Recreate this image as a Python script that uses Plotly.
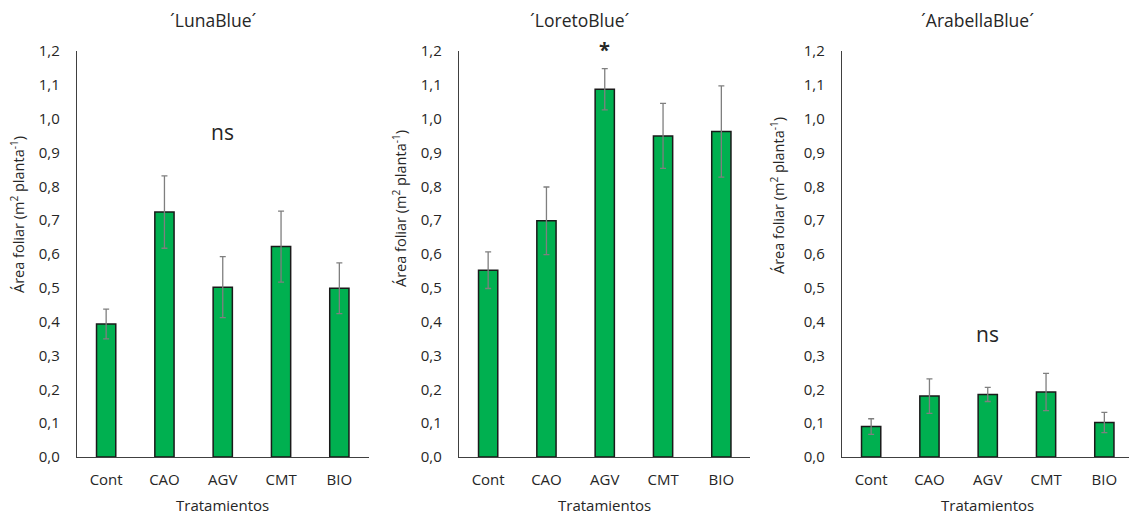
import plotly.graph_objects as go

# Treatments and leaf-area means (m² planta⁻¹) with standard errors
tratamientos = ["Cont", "CAO", "AGV", "CMT", "BIO"]

cultivares = ["´LunaBlue´", "´LoretoBlue´", "´ArabellaBlue´"]

luna_media = [0.393, 0.724, 0.502, 0.622, 0.499]
luna_error = [0.044, 0.107, 0.090, 0.105, 0.075]

loreto_media = [0.552, 0.698, 1.087, 0.949, 0.962]
loreto_error = [0.054, 0.100, 0.061, 0.096, 0.135]

arabella_media = [0.090, 0.180, 0.185, 0.192, 0.102]
arabella_error = [0.023, 0.051, 0.021, 0.055, 0.030]

# Significance marks: text, category, height
signif = [("ns", "AGV", 0.96), ("<b>*</b>", "AGV", 1.205), ("ns", "AGV", 0.364)]

y_ticks = [round(0.1 * i, 1) for i in range(13)]

W, H = 1129, 515
GREEN = "#00B050"
TXT = "#262626"
FONT = "Open Sans"

medias = [luna_media, loreto_media, arabella_media]
errores = [luna_error, loreto_error, arabella_error]

# Panel placement in pixels: y-axis line x, x-axis end
panels = [(77, 369), (459, 750), (842, 1129)]
cat_px = 58.3
y0_px, y1_px = 457, 51
y_span = 1.2

fig = go.Figure()
for i, (m, e) in enumerate(zip(medias, errores)):
    n = "" if i == 0 else str(i + 1)
    fig.add_trace(go.Bar(
        x=tratamientos, y=m,
        xaxis="x" + n, yaxis="y" + n,
        width=0.33,
        marker=dict(color=GREEN, line=dict(color="#1a1a1a", width=1.5)),
        error_y=dict(type="data", array=e, visible=True,
                     color="#7f7f7f", thickness=1.3, width=3),
        showlegend=False,
    ))

layout = dict(
    width=W, height=H,
    autosize=False,
    margin=dict(l=0, r=0, t=0, b=0, pad=0),
    plot_bgcolor="white", paper_bgcolor="white",
    separators=",.",
    font=dict(family=FONT, size=15, color=TXT),
    annotations=[],
)

titles_y = [215, 209, 196]
titles_x = [17, 400, 777]
title_cx = [213, 580, 977]
for i, (xa, xb) in enumerate(panels):
    n = "" if i == 0 else str(i + 1)
    width_px = xb - xa
    layout["xaxis" + n] = dict(
        domain=[xa / W, xb / W],
        anchor="y" + n,
        type="category",
        range=[-0.5, -0.5 + width_px / cat_px],
        showline=True, linecolor="#404040", linewidth=1.3,
        showgrid=False, ticks="", ticklabelstandoff=9,
        tickfont=dict(size=15, color=TXT),
        automargin=False, fixedrange=True,
    )
    layout["yaxis" + n] = dict(
        domain=[(H - y0_px) / H, (H - y1_px) / H],
        anchor="x" + n,
        range=[0, y_span],
        tickvals=y_ticks, tickformat=".1f",
        showline=True, linecolor="#404040", linewidth=1.3,
        showgrid=False, zeroline=False, ticks="", ticklabelstandoff=13,
        tickfont=dict(size=15, color=TXT),
        automargin=False, fixedrange=True,
    )
    xd = "x" + n + " domain"
    # Cultivar title
    layout["annotations"].append(dict(
        text=cultivares[i], xref="paper", yref="paper",
        x=title_cx[i] / W, y=(H - 20) / H,
        showarrow=False, font=dict(size=17.5, color=TXT),
        xanchor="center", yanchor="middle",
    ))
    # Axis titles
    layout["annotations"].append(dict(
        text="Área foliar (m<sup>2</sup> planta<sup>-1</sup>)",
        xref="paper", yref="paper",
        x=titles_x[i] / W, y=(H - titles_y[i]) / H,
        textangle=-90, showarrow=False,
        font=dict(size=14.5, color=TXT), xanchor="center", yanchor="middle",
    ))
    layout["annotations"].append(dict(
        text="Tratamientos", xref=xd, yref="paper",
        x=(2.5 * cat_px) / width_px,
        y=(H - 505) / H,
        showarrow=False, font=dict(size=15, color=TXT),
        xanchor="center", yanchor="middle",
    ))
    # Significance label, positioned by its value on the panel's y scale
    txt, cat, yv = signif[i]
    layout["annotations"].append(dict(
        text=txt, xref="x" + n, yref="y" + n + " domain",
        x=cat, y=yv / y_span,
        showarrow=False,
        font=dict(size=21 if txt == "ns" else 20, color=TXT),
        xanchor="center", yanchor="middle",
    ))

fig.update_layout(**layout)
fig.write_html("out.html", config={"displayModeBar": False})
